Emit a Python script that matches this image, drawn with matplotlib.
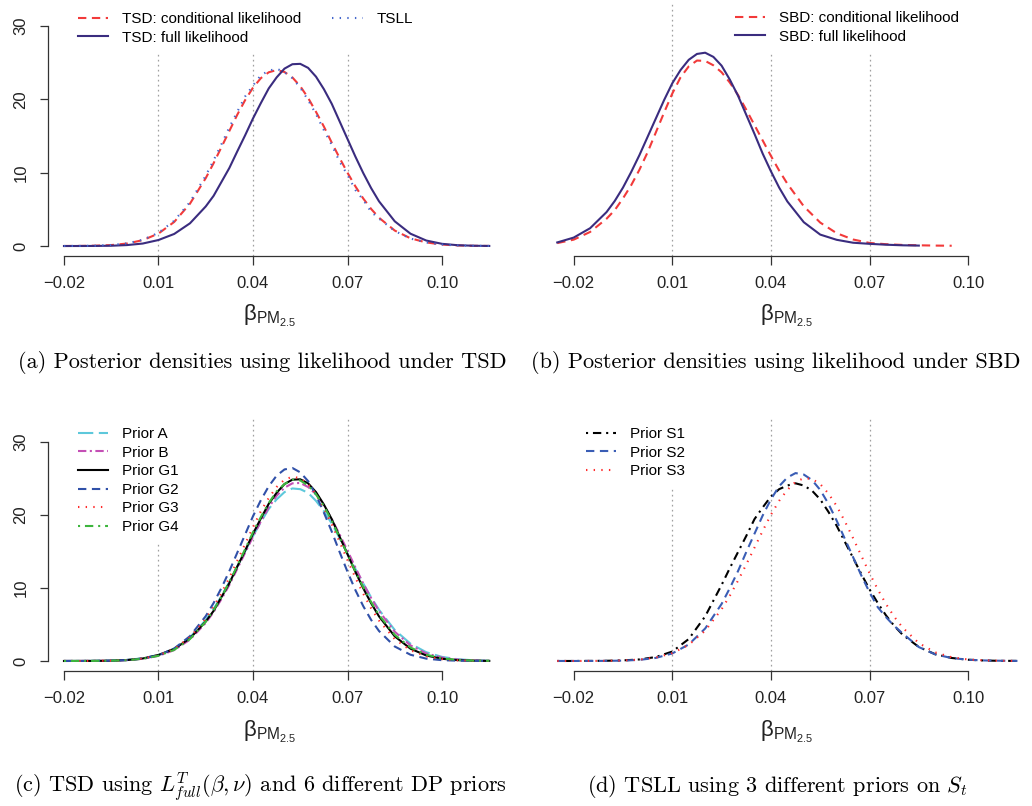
import matplotlib.pyplot as plt

plt.rcParams['font.family'] = ['Liberation Sans', 'DejaVu Sans']
plt.rcParams['mathtext.fontset'] = 'custom'
plt.rcParams['mathtext.rm'] = 'Liberation Sans'
plt.rcParams['mathtext.it'] = 'Liberation Sans:italic'
plt.rcParams['mathtext.bf'] = 'Liberation Sans:bold'
plt.rcParams['lines.scale_dashes'] = False

W, H = 1032, 806

# ---- data (posterior densities of beta_PM2.5) ----
x_ac = [-0.02, -0.015, -0.01, -0.005, 0.0, 0.005, 0.01, 0.015, 0.02, 0.025,
        0.0275, 0.03, 0.0325, 0.035, 0.0375, 0.04, 0.0425, 0.045, 0.0475,
        0.05, 0.0525, 0.055, 0.0575, 0.06, 0.0625, 0.065, 0.0675, 0.07,
        0.0725, 0.075, 0.0775,
        0.08, 0.085, 0.09, 0.095, 0.1, 0.105, 0.11, 0.115]

# (a) likelihood under TSD
tsd_cond = [0.005, 0.015, 0.048, 0.13, 0.34, 0.80, 1.70, 3.29, 5.78, 9.26,
            11.3, 13.5, 15.7, 17.9, 19.9, 21.6, 22.9, 23.7, 24.0, 23.74,
            23.0, 21.8, 20.2, 18.3, 16.3, 14.1, 12.0, 10.0, 8.14, 6.48, 5.06,
            3.86, 2.11, 1.05, 0.49, 0.20, 0.08, 0.03, 0.01]
tsd_full = [0.001, 0.004, 0.013, 0.04, 0.13, 0.34, 0.82, 1.65, 3.1, 5.4,
            6.85, 8.75, 10.65, 12.9, 15.1, 17.4, 19.5, 21.5, 23.0, 24.2,
            24.8, 24.85, 24.3, 23.1, 21.4, 19.4, 17.0, 14.6, 12.2, 9.95, 7.9,
            6.10, 3.37, 1.68, 0.75, 0.30, 0.11, 0.04, 0.01]
tsll = [0.005, 0.015, 0.05, 0.14, 0.36, 0.85, 1.8, 3.45, 6.0, 9.6,
        11.7, 13.9, 16.2, 18.3, 20.4, 21.9, 23.3, 23.9, 24.2, 23.7,
        22.9, 21.6, 19.9, 18.0, 15.8, 13.8, 11.5, 9.7, 7.65, 6.3, 4.66,
        3.75, 2.05, 1.02, 0.48, 0.2, 0.08, 0.03, 0.01]

# (b) likelihood under SBD
sbd_full_x = [-0.025, -0.02, -0.015, -0.01,
              -0.0075, -0.005, -0.0025, 0.0, 0.0025, 0.005, 0.0075, 0.01,
              0.0125, 0.015, 0.0175, 0.02, 0.0225, 0.025, 0.0275, 0.03,
              0.0325, 0.035, 0.0375, 0.04, 0.0425,
              0.045, 0.05, 0.055, 0.06, 0.065, 0.07, 0.075, 0.08, 0.085]
sbd_full = [0.49, 1.15, 2.43, 4.63,
            6.15, 7.97, 10.1, 12.4, 14.9, 17.4, 19.9, 22.2, 24.0, 25.4,
            26.2, 26.37, 25.8, 24.6, 22.7, 20.5, 17.9, 15.3, 12.6, 10.2, 7.98,
            6.08, 3.25, 1.56, 0.85, 0.45, 0.3, 0.18, 0.1, 0.06]
sbd_cond_x = sbd_full_x + [0.09, 0.095]
sbd_cond = [0.4, 0.87, 1.92, 3.72,
            4.9, 6.5, 8.3, 10.4, 12.8, 15.5, 18.2, 20.8, 23.0, 24.5,
            25.3, 25.25, 24.65, 23.7, 22.3, 20.6, 18.6, 16.5, 14.4, 12.3, 10.3,
            8.5, 5.42, 3.2, 1.75, 0.89, 0.42, 0.25, 0.15, 0.1, 0.06, 0.04]

# (c) TSD, six DP priors
prior_a = [0.002, 0.006, 0.019, 0.055, 0.15, 0.37, 0.83, 1.71, 3.23, 5.60,
           7.12, 8.87, 10.8, 12.9, 15.0, 17.1, 19.0, 20.8, 22.1, 23.1,
           23.6, 23.5, 23.0, 21.9, 20.5, 18.8, 16.8, 14.7, 12.6, 10.6, 8.7,
           7.0, 4.24, 2.36, 1.2, 0.56, 0.24, 0.09, 0.03]
prior_b = [0.001, 0.004, 0.013, 0.04, 0.12, 0.30, 0.70, 1.49, 2.92, 5.2,
           6.7, 8.48, 10.4, 12.6, 14.8, 17.0, 19.1, 21.0, 22.6, 23.7,
           24.3, 24.35, 23.8, 22.8, 21.3, 19.4, 17.3, 15.1, 12.8, 10.6, 8.6,
           6.84, 4.0, 2.13, 1.03, 0.46, 0.19, 0.07, 0.02]
prior_g1 = tsd_full  # same curve as the full likelihood in (a)
prior_g2 = [0.001, 0.003, 0.012, 0.04, 0.12, 0.32, 0.77, 1.70, 3.40, 6.13,
            7.93, 10.0, 12.3, 14.8, 17.3, 19.8, 22.0, 23.9, 25.35, 26.2,
            26.4, 25.8, 24.6, 22.7, 20.3, 17.7, 14.9, 12.2, 9.7, 7.5, 5.62,
            4.1, 1.98, 0.85, 0.32, 0.11, 0.04, 0.01, 0.0]
prior_g3 = [0.001, 0.004, 0.013, 0.045, 0.13, 0.33, 0.78, 1.66, 3.24, 5.76,
            7.41, 9.3, 11.4, 13.7, 16.0, 18.3, 20.5, 22.3, 23.8, 24.8,
            25.2, 25.0, 24.2, 22.8, 20.9, 18.7, 16.3, 13.8, 11.4, 9.2, 7.2,
            5.53, 2.99, 1.46, 0.64, 0.25, 0.09, 0.03, 0.01]
prior_g4 = [0.001, 0.004, 0.013, 0.04, 0.11, 0.30, 0.71, 1.52, 3.0, 5.38,
            6.95, 8.77, 10.8, 13.0, 15.3, 17.6, 19.7, 21.6, 23.2, 24.2,
            24.8, 24.7, 24.0, 22.8, 21.2, 19.2, 16.9, 14.6, 12.25, 10.1, 8.05,
            6.3, 3.57, 1.84, 0.86, 0.36, 0.14, 0.05, 0.02]

# (d) TSLL, three priors on S_t
x_d = [-0.025] + x_ac
prior_s1 = [0.0, 0.002, 0.01, 0.03, 0.08, 0.21, 0.54, 1.29, 3.0, 6.1, 10.4,
            12.7, 14.9, 17.1, 19.4, 21.0, 22.5, 23.5, 24.0, 24.3, 24.0,
            23.3, 22.1, 20.4, 18.5, 16.3, 14.1, 11.9, 9.8, 7.93, 6.24, 4.81,
            3.62, 1.91, 0.92, 0.41, 0.17, 0.06, 0.02, 0.01]
prior_s2 = [0.0, 0.001, 0.004, 0.015, 0.05, 0.15, 0.42, 1.03, 2.26, 4.44, 7.8,
            9.96, 12.3, 14.9, 17.4, 19.9, 22.1, 23.9, 25.1, 25.7, 25.5,
            24.75, 23.4, 21.5, 19.2, 16.7, 14.2, 11.7, 9.4, 7.36, 6.0, 4.8,
            3.8, 1.9, 0.9, 0.4, 0.17, 0.07, 0.03, 0.01]
prior_s3 = [0.0, 0.002, 0.007, 0.023, 0.07, 0.19, 0.47, 1.07, 2.21, 4.14, 7.08,
            8.92, 11.0, 13.2, 15.5, 17.8, 20.0, 21.9, 23.4, 24.5, 25.0,
            24.9, 24.2, 22.9, 21.2, 19.1, 16.8, 14.4, 12.0, 9.8, 7.8, 6.06,
            4.6, 2.44, 1.17, 0.51, 0.2, 0.08, 0.03, 0.01]

xticks = [-0.02, 0.01, 0.04, 0.07, 0.10]
xticklabels = ['\u22120.02', '0.01', '0.04', '0.07', '0.10']
yticks = [0, 10, 20, 30]
vlines = [0.01, 0.04, 0.07]

captions = [
    '(a) Posterior densities using likelihood under TSD',
    '(b) Posterior densities using likelihood under SBD',
    r'(c) TSD using $L^T_{full}(\beta,\nu)$ and 6 different DP priors',
    r'(d) TSLL using 3 different priors on $S_t$',
]

# ---- styles ----
RED = '#F23A3A'
NAVY = '#3A2C7F'
DASH = (0, (6, 4))
DOT = (0, (1, 4.5))
LONGDASH = (0, (11, 4))
DOTDASH = (0, (1.5, 3.5, 6, 3.5))
TWODASH = (0, (6, 2.5, 1.5, 2.5))
AXCOL = '#333333'

fig = plt.figure(figsize=(W / 100, H / 100), dpi=100)


def panel(x0, x1, y0, y1, xlim, ylim, show_y):
    ax = fig.add_axes([x0 / W, 1 - y1 / H, (x1 - x0) / W, (y1 - y0) / H])
    ax.set_xlim(*xlim)
    ax.set_ylim(*ylim)
    ax.patch.set_visible(False)
    for s in ['top', 'right']:
        ax.spines[s].set_visible(False)
    ax.spines['bottom'].set_bounds(-0.02, 0.10)
    ax.spines['bottom'].set_color(AXCOL)
    ax.spines['bottom'].set_linewidth(0.9)
    ax.set_xticks(xticks)
    ax.set_xticklabels(xticklabels)
    ax.tick_params(axis='x', direction='out', length=6.5, width=0.9,
                   colors=AXCOL, labelcolor='#222222', labelsize=12, pad=8)
    if show_y:
        ax.spines['left'].set_bounds(0, 30)
        ax.spines['left'].set_color(AXCOL)
        ax.spines['left'].set_linewidth(0.9)
        ax.set_yticks(yticks)
        ax.set_yticklabels([str(t) for t in yticks], rotation=90, va='center')
        ax.tick_params(axis='y', direction='out', length=6, width=0.9,
                       colors=AXCOL, labelcolor='#222222', labelsize=12, pad=8)
    else:
        ax.spines['left'].set_visible(False)
        ax.set_yticks([])
    for v in vlines:
        ax.axvline(v, color='#a0a0a0', lw=0.9, ls=(0, (1.2, 2.4)), zorder=0.5)
    return ax


def legend(ax, x, y, ncol=1):
    ax.legend(loc='upper left', bbox_to_anchor=(x / W, 1 - y / H),
              bbox_transform=fig.transFigure, ncol=ncol, fontsize=11,
              frameon=True, fancybox=False, facecolor='white',
              edgecolor='none', framealpha=1, borderpad=0.65,
              borderaxespad=0, handlelength=2.0, handletextpad=0.9,
              labelspacing=0.3, columnspacing=2.0)


xlim_ac = (-0.0251, 0.1205)
xlim_bd = (-0.03, 0.119)
ylim_ab = (-1.36, 33.3)
ylim_cd = (-1.33, 33.4)

# (a)
ax = panel(47.9, 506.6, 1.9, 256, xlim_ac, ylim_ab, True)
ax.plot(x_ac, tsd_cond, color=RED, lw=1.5, ls=DASH, label='TSD: conditional likelihood')
ax.plot(x_ac, tsd_full, color=NAVY, lw=1.5, label='TSD: full likelihood')
ax.plot(x_ac, tsll, color='#4466CC', lw=1.5, ls=DOT, label='TSLL')
legend(ax, 68, 2.0, ncol=2)

# (b)
ax = panel(540.8, 1030.6, 1.9, 256, xlim_bd, ylim_ab, False)
ax.plot(sbd_cond_x, sbd_cond, color=RED, lw=1.5, ls=DASH, label='SBD: conditional likelihood')
ax.plot(sbd_full_x, sbd_full, color=NAVY, lw=1.5, label='SBD: full likelihood')
legend(ax, 725, 1.0)

# (c)
ax = panel(47.9, 506.6, 416.8, 670.7, xlim_ac, ylim_cd, True)
ax.plot(x_ac, prior_a, color='#5DC8DB', lw=1.5, ls=LONGDASH, label='Prior A')
ax.plot(x_ac, prior_b, color='#C44FB5', lw=1.5, ls=TWODASH, label='Prior B')
ax.plot(x_ac, prior_g1, color='black', lw=1.5, label='Prior G1')
ax.plot(x_ac, prior_g2, color='#3050A8', lw=1.5, ls=DASH, label='Prior G2')
ax.plot(x_ac, prior_g3, color='#FF2A2A', lw=1.5, ls=DOT, label='Prior G3')
ax.plot(x_ac, prior_g4, color='#3DB53D', lw=1.5, ls=DOTDASH, label='Prior G4')
legend(ax, 68, 417.2)

# (d)
ax = panel(540.8, 1030.6, 416.8, 670.7, xlim_bd, ylim_cd, False)
ax.plot(x_d, prior_s1, color='black', lw=1.5, ls=DOTDASH, label='Prior S1')
ax.plot(x_d, prior_s2, color='#3A5DB5', lw=1.5, ls=DASH, label='Prior S2')
ax.plot(x_d, prior_s3, color='#FF2A2A', lw=1.5, ls=DOT, label='Prior S3')
legend(ax, 576, 417.0)

# axis labels and captions
xlab = r'$\mathrm{\beta}_{\mathrm{PM}_{2.5}}$'
for cx, cy in [(270, 316), (787, 316), (270, 732), (787, 732)]:
    fig.text(cx / W, 1 - cy / H, xlab, fontsize=16, ha='center', va='center',
             color='#222222')

for (cx, cy), txt in zip([(262, 362), (776, 362), (260, 787), (777, 787)], captions):
    fig.text(cx / W, 1 - cy / H, txt, family='cmr10', math_fontfamily='cm',
             fontsize=16, ha='center', va='center', color='black')

fig.savefig('out.png', dpi=100)
